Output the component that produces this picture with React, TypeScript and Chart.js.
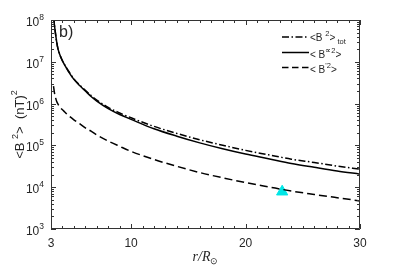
import React, { useEffect, useRef } from "react";
import { Chart, registerables } from "chart.js";

Chart.register(...registerables);

// ---- data ----
const radii = [3.22, 3.3, 3.4, 3.5, 3.6, 3.8, 4.0, 4.2, 4.5, 5, 5.5, 6, 6.5, 7, 8, 9, 10, 12, 14, 16, 18, 20, 22, 24, 26, 28, 30];
const bTot = [1.26e8, 7.6e7, 4.6e7, 2.95e7, 2.1e7, 1.42e7, 1.06e7, 8.4e6, 6.2e6, 3.9e6, 2.8e6, 2.09e6, 1.56e6, 1.22e6, 8.1e5, 5.96e5, 4.57e5, 2.85e5, 1.93e5, 1.36e5, 1.01e5, 7.6e4, 5.96e4, 4.68e4, 3.9e4, 3.2e4, 2.7e4];
const bPar = [1.26e8, 7.6e7, 4.6e7, 2.95e7, 2.1e7, 1.41e7, 1.05e7, 8.3e6, 6.0e6, 3.8e6, 2.7e6, 2.0e6, 1.48e6, 1.15e6, 7.6e5, 5.5e5, 4.2e5, 2.5e5, 1.66e5, 1.15e5, 8.3e4, 6.2e4, 4.8e4, 3.7e4, 3.0e4, 2.45e4, 2.05e4];
const bPerp = [2.63e6, 1.82e6, 1.38e6, 1.12e6, 9.8e5, 8.1e5, 7.1e5, 6.3e5, 5.25e5, 4.1e5, 3.3e5, 2.63e5, 2.19e5, 1.78e5, 1.27e5, 9.5e4, 7.2e4, 4.6e4, 3.16e4, 2.24e4, 1.68e4, 1.29e4, 1.02e4, 8.1e3, 6.7e3, 5.6e3, 4.7e3];
const obsR = [23.2];
const obsB = [7.8e3];

const xTickValues = [3, 10, 20, 30];
const yTickValues = [1e3, 1e4, 1e5, 1e6, 1e7, 1e8];
const yTickExponents = ["3", "4", "5", "6", "7", "8"];

const TEXT = "#262626";
const SANS = '"Liberation Sans", Arial, Helvetica, sans-serif';
const SERIF = '"Liberation Serif", "DejaVu Serif", serif';
const DASHDOT = [7, 2.5, 1.5, 2.5];
const DASHED = [8, 4];

type Part = { t: string; size: number; dy?: number; font?: string; style?: string };

function partsWidth(ctx: CanvasRenderingContext2D, parts: Part[]) {
  let w = 0;
  for (const p of parts) {
    ctx.font = `${p.style || ""} ${p.size}px ${p.font || SANS}`;
    w += ctx.measureText(p.t).width;
  }
  return w;
}

function drawParts(ctx: CanvasRenderingContext2D, parts: Part[], x: number, y: number) {
  let cx = x;
  for (const p of parts) {
    ctx.font = `${p.style || ""} ${p.size}px ${p.font || SANS}`;
    ctx.fillText(p.t, cx, y + (p.dy || 0));
    cx += ctx.measureText(p.t).width;
  }
  return cx;
}

const framePlugin = {
  id: "frame",
  afterDraw(chart: any) {
    const ctx: CanvasRenderingContext2D = chart.ctx;
    const { left, right, top, bottom } = chart.chartArea;
    const xs = chart.scales.x;
    const ys = chart.scales.y;
    ctx.save();

    // frame
    ctx.strokeStyle = "#333";
    ctx.lineWidth = 1;
    ctx.beginPath();
    ctx.rect(left + 0.5, top + 0.5, right - left - 1, bottom - top - 1);
    ctx.stroke();

    // x ticks (inward, bottom and top)
    ctx.beginPath();
    for (let v = 3; v <= 30; v++) {
      const px = Math.round(xs.getPixelForValue(v)) + 0.5;
      const major = xTickValues.includes(v);
      const len = major ? 5 : 3;
      ctx.moveTo(px, bottom);
      ctx.lineTo(px, bottom - len);
      ctx.moveTo(px, top);
      ctx.lineTo(px, top + len);
    }
    // y ticks (inward, left and right)
    for (let d = 3; d <= 8; d++) {
      for (let m = 1; m <= 9; m++) {
        if (d === 8 && m > 1) break;
        const val = m * Math.pow(10, d);
        const py = Math.round(ys.getPixelForValue(val)) + 0.5;
        const len = m === 1 ? 5 : 3;
        ctx.moveTo(left, py);
        ctx.lineTo(left + len, py);
        ctx.moveTo(right, py);
        ctx.lineTo(right - len, py);
      }
    }
    ctx.stroke();

    // y tick labels 10^n
    ctx.fillStyle = TEXT;
    ctx.textBaseline = "alphabetic";
    ctx.textAlign = "left";
    yTickValues.forEach((v, i) => {
      const py = ys.getPixelForValue(v);
      const parts: Part[] = [
        { t: "10", size: 12 },
        { t: yTickExponents[i], size: 8.5, dy: -6 },
      ];
      const w = partsWidth(ctx, parts);
      drawParts(ctx, parts, 44 - w, py + 6);
    });

    // y axis title, rotated
    ctx.save();
    ctx.translate(23.5, (top + bottom) / 2);
    ctx.rotate(-Math.PI / 2);
    const yParts: Part[] = [
      { t: "<B ", size: 13 },
      { t: "2", size: 9, dy: -6 },
      { t: ">  (nT)", size: 13 },
      { t: "2", size: 9, dy: -7 },
    ];
    const yw = partsWidth(ctx, yParts);
    drawParts(ctx, yParts, -yw / 2, 0);
    ctx.restore();

    // x axis title r/R_sun
    const xParts: Part[] = [
      { t: "r", size: 14, font: SERIF, style: "italic" },
      { t: "/", size: 14, font: SERIF, style: "italic" },
      { t: "R", size: 14, font: SERIF, style: "italic" },
      { t: "\u2299", size: 9, font: SANS, dy: 3 },
    ];
    const xw = partsWidth(ctx, xParts);
    drawParts(ctx, xParts, (left + right) / 2 - xw / 2, 261);

    // panel label
    drawParts(ctx, [{ t: "b)", size: 16 }], 59, 37);

    // legend
    const lx0 = 282;
    const lx1 = 309;
    const rows = [37, 52.5, 67.5];
    const dashes = [DASHDOT, [], [6.5, 3.5]];
    ctx.strokeStyle = "#000";
    ctx.lineWidth = 1.5;
    rows.forEach((ry, i) => {
      ctx.setLineDash(dashes[i]);
      ctx.beginPath();
      ctx.moveTo(lx0, ry);
      ctx.lineTo(lx1, ry);
      ctx.stroke();
    });
    ctx.setLineDash([]);
    ctx.fillStyle = TEXT;
    drawParts(ctx, [
      { t: "<B ", size: 10 },
      { t: "2", size: 7.5, dy: -5 },
      { t: ">", size: 10 },
      { t: " tot", size: 7.5, dy: 3 },
    ], 310, rows[0] + 4);
    drawParts(ctx, [
      { t: "< B", size: 10 },
      { t: "\u221d2", size: 7.5, dy: -5 },
      { t: ">", size: 10 },
    ], 310, rows[1] + 5);
    drawParts(ctx, [
      { t: "< B", size: 10 },
      { t: "'2", size: 7.5, dy: -5 },
      { t: ">", size: 10 },
    ], 310, rows[2] + 5);

    ctx.restore();
  },
};

export default function App() {
  const ref = useRef<HTMLCanvasElement | null>(null);

  useEffect(() => {
    if (!ref.current) return;
    const toPts = (ys: number[]) => radii.map((r, i) => ({ x: r, y: ys[i] }));
    const chart = new Chart(ref.current, {
      type: "line",
      data: {
        datasets: [
          {
            label: "<B2>tot",
            data: toPts(bTot),
            borderColor: "#000",
            borderWidth: 1.5,
            borderDash: DASHDOT,
            pointRadius: 0,
            cubicInterpolationMode: "monotone",
            fill: false,
          },
          {
            label: "<B∝2>",
            data: toPts(bPar),
            borderColor: "#000",
            borderWidth: 1.5,
            pointRadius: 0,
            cubicInterpolationMode: "monotone",
            fill: false,
          },
          {
            label: "<B'2>",
            data: toPts(bPerp),
            borderColor: "#000",
            borderWidth: 1.5,
            borderDash: DASHED,
            pointRadius: 0,
            cubicInterpolationMode: "monotone",
            fill: false,
          },
          {
            label: "obs",
            data: obsR.map((r, i) => ({ x: r, y: obsB[i] })),
            showLine: false,
            pointStyle: "triangle",
            pointRadius: 6.5,
            pointBackgroundColor: "#00e6e6",
            pointBorderColor: "#00e6e6",
            pointBorderWidth: 1,
          },
        ],
      },
      options: {
        animation: false,
        responsive: false,
        layout: { padding: { top: 20, right: 37, left: 0, bottom: 0 } },
        plugins: { legend: { display: false }, tooltip: { enabled: false } },
        scales: {
          x: {
            type: "linear",
            min: 3,
            max: 30,
            grid: { display: false, drawTicks: false },
            border: { display: false },
            ticks: {
              color: TEXT,
              font: { size: 12, family: SANS },
              padding: 7,
              maxRotation: 0,
            },
            afterBuildTicks: (scale: any) => {
              scale.ticks = xTickValues.map((v) => ({ value: v }));
            },
            afterFit: (scale: any) => {
              scale.height = 37;
            },
          },
          y: {
            type: "logarithmic",
            min: 1e3,
            max: 1e8,
            grid: { display: false, drawTicks: false },
            border: { display: false },
            ticks: { display: false },
            afterFit: (scale: any) => {
              scale.width = 51;
            },
          },
        },
      },
      plugins: [framePlugin],
    });
    return () => chart.destroy();
  }, []);

  return (
    <div style={{ position: "absolute", left: 0, top: 0, width: 397, height: 266, background: "#fff" }}>
      <canvas ref={ref} width={397} height={266} style={{ width: 397, height: 266, display: "block" }} />
    </div>
  );
}
